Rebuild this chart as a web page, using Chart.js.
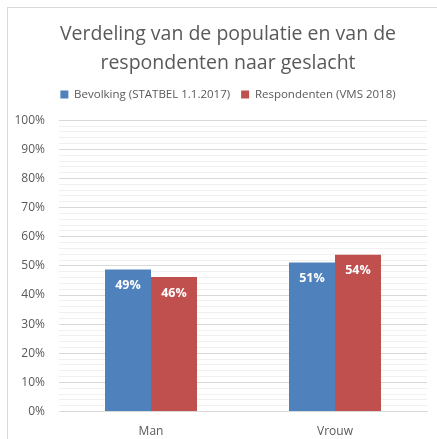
<!DOCTYPE html>
<html>
<head>
<meta charset="utf-8">
<script src="https://cdn.jsdelivr.net/npm/chart.js@4"></script>
<style>
  body { margin: 0; background: #fff; overflow: hidden; }
  #wrap { position: absolute; left: 7px; top: 7px; width: 442px; height: 440px; border: 1px solid #d9d9d9; box-sizing: border-box; }
</style>
</head>
<body>
<div id="wrap"><canvas id="chart"></canvas></div>
<script>
// Data
var categories = ['Man', 'Vrouw'];
var bevolking = [48.8, 51.2];
var respondenten = [46.2, 53.8];
var bevolkingLabels = ['49%', '51%'];
var respondentenLabels = ['46%', '54%'];
var seriesNames = ['Bevolking (STATBEL 1.1.2017)', 'Respondenten (VMS 2018)'];

var textColor = '#595959';
var font = "'Open Sans', 'Liberation Sans', sans-serif";

// extra room below the legend
var legendGap = {
    id: 'legendGap',
    beforeInit: function(chart) {
        var fit = chart.legend.fit;
        chart.legend.fit = function() {
            fit.call(this);
            this.height += 10;
        };
    }
};

// draw the value labels inside the top of each bar
var barLabels = {
    id: 'barLabels',
    afterDatasetsDraw: function(chart) {
        var ctx = chart.ctx;
        var texts = [bevolkingLabels, respondentenLabels];
        ctx.save();
        ctx.fillStyle = '#ffffff';
        ctx.font = 'bold 12.5px ' + font;
        ctx.textAlign = 'center';
        ctx.textBaseline = 'middle';
        chart.data.datasets.forEach(function(ds, i) {
            chart.getDatasetMeta(i).data.forEach(function(bar, j) {
                ctx.fillText(texts[i][j], bar.x, bar.y + 16);
            });
        });
        ctx.restore();
    }
};

new Chart(document.getElementById('chart'), {
    type: 'bar',
    data: {
        labels: categories,
        datasets: [{
            label: seriesNames[0],
            data: bevolking,
            backgroundColor: '#4f81bd',
            categoryPercentage: 0.5,
            barPercentage: 1
        }, {
            label: seriesNames[1],
            data: respondenten,
            backgroundColor: '#c0504d',
            categoryPercentage: 0.5,
            barPercentage: 1
        }]
    },
    options: {
        responsive: true,
        maintainAspectRatio: false,
        animation: false,
        layout: { padding: { left: 0, right: 0, top: 8, bottom: 2 } },
        plugins: {
            title: {
                display: true,
                text: ['Verdeling van de populatie en van de', 'respondenten naar geslacht'],
                color: textColor,
                font: { family: font, size: 19.5, weight: 'normal', lineHeight: 1.48 },
                padding: { top: 4, bottom: 0 }
            },
            legend: {
                labels: {
                    color: textColor,
                    font: { family: font, size: 11.5 },
                    boxWidth: 8,
                    boxHeight: 8,
                    padding: 11
                }
            },
            tooltip: { enabled: false }
        },
        scales: {
            x: {
                grid: { display: false },
                border: { color: '#d9d9d9' },
                ticks: { color: textColor, padding: 5, font: { family: font, size: 12 } }
            },
            y: {
                min: 0,
                max: 100,
                afterFit: function(scale) { scale.width = 51; },
                border: { display: false },
                grid: {
                    color: function(c) { return c.tick.value % 10 === 0 ? '#d9d9d9' : '#f0f0f0'; },
                    drawTicks: false
                },
                ticks: {
                    stepSize: 2,
                    autoSkip: false,
                    padding: 14,
                    color: textColor,
                    font: { family: font, size: 12 },
                    callback: function(v) { return v % 10 === 0 ? v + '%' : ''; }
                }
            },
            // empty right-hand axis, only keeps space beside the plot
            yRight: {
                position: 'right',
                min: 0,
                max: 100,
                afterFit: function(scale) { scale.width = 21; },
                border: { display: false },
                grid: { display: false },
                ticks: { display: false }
            }
        }
    },
    plugins: [barLabels, legendGap]
});
</script>
</body>
</html>
